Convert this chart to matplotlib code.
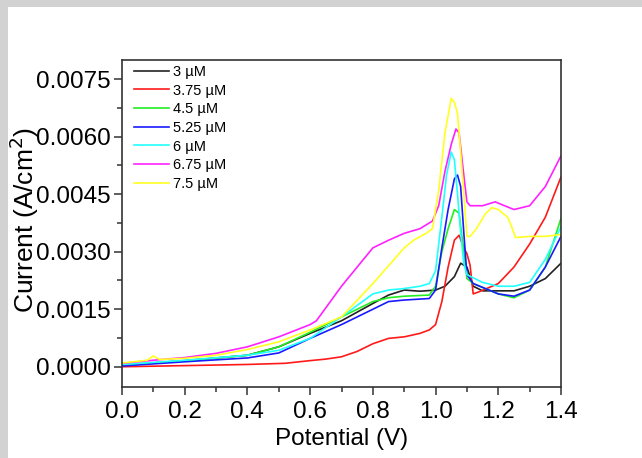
import matplotlib
matplotlib.use('Agg')
import matplotlib.pyplot as plt
from matplotlib.patches import Rectangle
from matplotlib.ticker import MultipleLocator, FormatStrFormatter

plt.rcParams['font.family'] = ['Liberation Sans', 'DejaVu Sans']

# potential (V) and current density (A/cm2)
v_3 = [0, 0.2, 0.4, 0.5, 0.6, 0.7, 0.8, 0.85, 0.9, 0.95, 1.0, 1.03, 1.06, 1.08, 1.10, 1.12, 1.15, 1.2, 1.25, 1.3, 1.35, 1.4]
i_3 = [0.00004, 0.00016, 0.0003, 0.00052, 0.00087, 0.0012, 0.00165, 0.00187, 0.0020, 0.00197, 0.0020, 0.0021, 0.00235,
       0.0027, 0.0026, 0.0021, 0.00198, 0.00198, 0.00198, 0.0021, 0.0023, 0.0027]

v_375 = [0, 0.2, 0.4, 0.52, 0.6, 0.65, 0.7, 0.75, 0.8, 0.85, 0.9, 0.95, 0.98, 1.0, 1.02, 1.04, 1.06, 1.075, 1.09,
         1.10, 1.11, 1.12, 1.14, 1.2, 1.25, 1.3, 1.35, 1.4]
i_375 = [0.0, 0.00003, 0.00006, 0.00009, 0.00016, 0.0002, 0.00026, 0.0004, 0.0006, 0.00074, 0.00078, 0.00087, 0.00096,
         0.0011, 0.0017, 0.0026, 0.0033, 0.00343, 0.0031, 0.00295, 0.00265, 0.0019, 0.00196, 0.00217, 0.0026, 0.0032,
         0.0039, 0.00495]

v_45 = [0, 0.2, 0.4, 0.5, 0.6, 0.7, 0.8, 0.85, 0.9, 0.98, 1.0, 1.02, 1.04, 1.06, 1.075, 1.09, 1.10, 1.12, 1.2, 1.25,
        1.3, 1.35, 1.4]
i_45 = [0.00005, 0.00015, 0.0003, 0.00052, 0.0009, 0.0013, 0.0017, 0.0018, 0.00184, 0.00187, 0.0021, 0.003, 0.0036,
        0.0041, 0.004, 0.003, 0.0023, 0.00217, 0.0019, 0.0018, 0.002, 0.0026, 0.00387]

v_525 = [0, 0.2, 0.4, 0.5, 0.6, 0.7, 0.8, 0.85, 0.9, 0.98, 1.0, 1.02, 1.04, 1.06, 1.07, 1.08, 1.09, 1.10, 1.12, 1.2,
         1.25, 1.3, 1.35, 1.4]
i_525 = [0.00002, 0.00013, 0.00023, 0.00036, 0.00074, 0.0011, 0.0015, 0.0017, 0.00174, 0.00178, 0.002, 0.0031, 0.0041,
         0.0049, 0.005, 0.0047, 0.0035, 0.0024, 0.00217, 0.0019, 0.00184, 0.002, 0.0026, 0.0034]

v_6 = [0, 0.2, 0.4, 0.5, 0.6, 0.7, 0.8, 0.85, 0.9, 0.95, 0.98, 1.0, 1.02, 1.035, 1.05, 1.06, 1.07, 1.08, 1.09, 1.10,
       1.15, 1.2, 1.25, 1.3, 1.35, 1.4]
i_6 = [0.00006, 0.00017, 0.0003, 0.00043, 0.00074, 0.0013, 0.0019, 0.002, 0.00204, 0.0021, 0.00217, 0.0025, 0.0039,
       0.005, 0.0056, 0.0054, 0.0045, 0.0035, 0.0027, 0.0024, 0.0022, 0.0021, 0.0021, 0.0022, 0.0028, 0.00365]

v_675 = [0, 0.1, 0.2, 0.3, 0.4, 0.5, 0.6, 0.62, 0.7, 0.75, 0.8, 0.85, 0.9, 0.95, 0.99, 1.01, 1.03, 1.05, 1.065, 1.075,
         1.09, 1.10, 1.11, 1.15, 1.19, 1.22, 1.25, 1.3, 1.35, 1.4]
i_675 = [0.00009, 0.00017, 0.00024, 0.00035, 0.00052, 0.00078, 0.0011, 0.0012, 0.0021, 0.0026, 0.0031, 0.0033,
         0.00348, 0.0036, 0.0038, 0.0042, 0.0051, 0.0058, 0.0062, 0.0061, 0.005, 0.0043, 0.0042, 0.0042, 0.0043,
         0.0042, 0.0041, 0.0042, 0.0047, 0.0055]

v_75 = [0, 0.08, 0.1, 0.12, 0.2, 0.3, 0.4, 0.5, 0.6, 0.7, 0.8, 0.9, 0.93, 0.97, 0.99, 1.01, 1.03, 1.05, 1.06, 1.07,
        1.08, 1.09, 1.10, 1.11, 1.13, 1.16, 1.18, 1.2, 1.23, 1.245, 1.255, 1.3, 1.35, 1.4]
i_75 = [0.0001, 0.00017, 0.00028, 0.00019, 0.00022, 0.0003, 0.00045, 0.00065, 0.00096, 0.0013, 0.00217, 0.0031,
        0.0033, 0.00348, 0.0036, 0.0046, 0.0061, 0.007, 0.0069, 0.0066, 0.0056, 0.0045, 0.0034, 0.0034, 0.0036,
        0.004, 0.00415, 0.0041, 0.0039, 0.0036, 0.00337, 0.0034, 0.0034, 0.00345]

labels = ['3 µM', '3.75 µM', '4.5 µM', '5.25 µM', '6 µM', '6.75 µM', '7.5 µM']
colors = ['#222222', '#ff1a1a', '#22ee22', '#1a1aff', '#22ffff', '#ff22ff', '#ffff22']
series = [(v_3, i_3), (v_375, i_375), (v_45, i_45), (v_525, i_525), (v_6, i_6), (v_675, i_675), (v_75, i_75)]

fig = plt.figure(figsize=(6.42, 4.58), dpi=100)
fig.patch.set_facecolor('#d2d2d2')
# white page area, the gray only shows on the top and left edge
fig.patches.append(Rectangle((8 / 642, 0), 1, 451 / 458, transform=fig.transFigure,
                             facecolor='white', edgecolor='none', zorder=-10))

ax = fig.add_axes([122 / 642, 1 - 386.7 / 458, 439 / 642, 326.7 / 458])
ax.set_zorder(1)
for (v, i), lab, c in zip(series, labels, colors):
    ax.plot(v, i, color=c, lw=1.2, label=lab)

ax.set_xlim(0, 1.4)
ax.set_ylim(-0.00052, 0.0080)
ax.xaxis.set_major_locator(MultipleLocator(0.2))
ax.xaxis.set_minor_locator(MultipleLocator(0.1))
ax.yaxis.set_major_locator(MultipleLocator(0.0015))
ax.yaxis.set_minor_locator(MultipleLocator(0.00075))
ax.xaxis.set_major_formatter(FormatStrFormatter('%.1f'))
ax.yaxis.set_major_formatter(FormatStrFormatter('%.4f'))
ax.tick_params(which='major', direction='out', length=6, width=1.1, color='#333333', labelsize=17.5, pad=2)
ax.tick_params(axis='x', which='major', pad=4)
ax.tick_params(which='minor', direction='out', length=3.5, width=1.1, color='#333333')
for s in ax.spines.values():
    s.set_color('#333333')
    s.set_linewidth(1.2)

ax.set_xlabel('Potential (V)', fontsize=17.5)
ax.set_ylabel('Current (A/cm$^2$)', fontsize=19)
ax.xaxis.set_label_coords(0.5, -0.125)
ax.yaxis.set_label_coords(-0.185, 0.51)

ax.legend(loc='upper left', bbox_to_anchor=(0.027, 0.985), frameon=False, fontsize=10.5,
          handlelength=2.4, handletextpad=0.3, labelspacing=0.32, borderpad=0, borderaxespad=0)

fig.savefig('out.png', dpi=100, facecolor=fig.get_facecolor())
